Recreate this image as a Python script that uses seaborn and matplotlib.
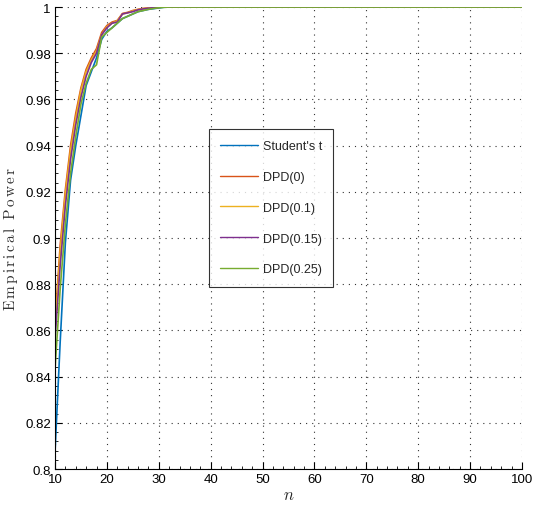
import numpy as np
import pandas as pd
import matplotlib
matplotlib.use("Agg")
import matplotlib.pyplot as plt
import seaborn as sns
from matplotlib.ticker import AutoMinorLocator
from matplotlib.lines import Line2D

# ---- data ----
n_values = list(range(10, 101))

head_student = [0.807, 0.855, 0.898, 0.925, 0.940, 0.953, 0.966, 0.972, 0.978, 0.986,
                0.9895, 0.991, 0.993, 0.995, 0.996, 0.997, 0.998, 0.9985, 0.999, 0.9993,
                0.9996, 0.9999]
head_dpd0 = [0.863, 0.897, 0.921, 0.940, 0.954, 0.965, 0.973, 0.978, 0.982, 0.989,
             0.992, 0.9935, 0.9942, 0.9972, 0.9977, 0.9985, 0.9990, 0.9994, 0.9996, 0.9998,
             0.9999, 1.0]
head_dpd01 = [0.860, 0.894, 0.919, 0.938, 0.952, 0.964, 0.972, 0.977, 0.981, 0.988,
              0.9915, 0.993, 0.994, 0.997, 0.9975, 0.9983, 0.9989, 0.9993, 0.9996, 0.9998,
              0.9999, 1.0]
head_dpd015 = [0.856, 0.888, 0.914, 0.934, 0.949, 0.961, 0.970, 0.976, 0.980, 0.988,
               0.991, 0.993, 0.9935, 0.997, 0.9975, 0.998, 0.9988, 0.9992, 0.9995, 0.9997,
               0.9999, 1.0]
head_dpd025 = [0.843, 0.878, 0.906, 0.928, 0.944, 0.958, 0.967, 0.973, 0.975, 0.987,
               0.989, 0.991, 0.993, 0.995, 0.996, 0.997, 0.998, 0.9985, 0.999, 0.9994,
               0.9997, 0.9999]

def full(head):
    return head + [1.0] * (len(n_values) - len(head))

series_names = ["Student's t", "DPD(0)", "DPD(0.1)", "DPD(0.15)", "DPD(0.25)"]
series_values = [full(head_student), full(head_dpd0), full(head_dpd01),
                 full(head_dpd015), full(head_dpd025)]
colors = ["#0072BD", "#D95319", "#EDB120", "#7E2F8E", "#77AC30"]

x_ticks = list(range(10, 101, 10))
y_ticks = [0.80, 0.82, 0.84, 0.86, 0.88, 0.90, 0.92, 0.94, 0.96, 0.98, 1.00]
y_ticklabels = ["0.8", "0.82", "0.84", "0.86", "0.88", "0.9", "0.92", "0.94", "0.96", "0.98", "1"]

df = pd.DataFrame({
    "n": np.tile(n_values, len(series_names)),
    "power": np.concatenate(series_values),
    "method": np.repeat(series_names, len(n_values)),
})

# ---- plot ----
sns.set_style("white")
plt.rcParams["font.family"] = ["Liberation Sans", "DejaVu Sans"]
plt.rcParams["mathtext.fontset"] = "cm"

fig = plt.figure(figsize=(5.36, 5.06), dpi=100)
ax = fig.add_axes([0.1026, 0.0711, 0.8713, 0.913])

sns.lineplot(data=df, x="n", y="power", hue="method", hue_order=series_names,
             palette=colors, linewidth=1.2, ax=ax, legend=False)

ax.set_xlim(10, 100)
ax.set_ylim(0.8, 1.0)
ax.set_xticks(x_ticks)
ax.set_yticks(y_ticks)
ax.set_yticklabels(y_ticklabels)
ax.xaxis.set_minor_locator(AutoMinorLocator(5))
ax.yaxis.set_minor_locator(AutoMinorLocator(5))
ax.tick_params(axis="both", which="major", direction="in", length=5, width=0.8,
               labelsize=9.5, colors="black", pad=3)
ax.tick_params(axis="both", which="minor", direction="in", length=2.5, width=0.6,
               colors="black")
ax.tick_params(axis="both", which="both", left=True, bottom=True)

for s in ["top", "right"]:
    ax.spines[s].set_visible(False)
for s in ["left", "bottom"]:
    ax.spines[s].set_color("black")
    ax.spines[s].set_linewidth(0.8)

ax.grid(True, which="major", linestyle=(0, (1, 4.5)), color="#333333", linewidth=0.8)
ax.set_axisbelow(True)

ax.set_xlabel(r"$n$", fontsize=12, labelpad=1)
ax.set_ylabel(r"$\mathrm{E\,m\,p\,i\,r\,i\,c\,a\,l\ \ P\,o\,w\,e\,r}$", fontsize=11,
              labelpad=4, color="#333333")

handles = [Line2D([0], [0], color=c, linewidth=1.0) for c in colors]
leg = ax.legend(handles, series_names, loc="upper left", bbox_to_anchor=(0.33, 0.736),
                fontsize=9, handlelength=3.0, labelspacing=1.5, borderpad=0.9,
                handletextpad=0.4, borderaxespad=0, frameon=True, fancybox=False)
leg.get_frame().set_edgecolor("black")
leg.get_frame().set_linewidth(0.8)

fig.savefig("out.png", dpi=100)
